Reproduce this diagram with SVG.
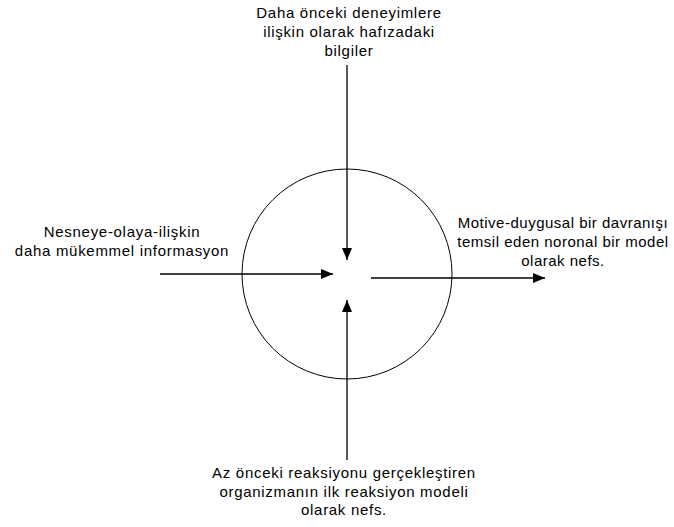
<svg xmlns="http://www.w3.org/2000/svg" width="674" height="527" viewBox="0 0 674 527">
<style>
text{font-family:"Liberation Sans",Arial,sans-serif;font-size:15px;letter-spacing:0.7px;fill:#000;text-anchor:middle}
#right text{letter-spacing:0.5px}
.c{fill:none;stroke:#000;stroke-width:1}
.a{fill:none;stroke:#000;stroke-width:1.3}
</style>
<defs>
<marker id="ah" viewBox="0 0 12 10" refX="12" refY="5" markerWidth="12" markerHeight="10" markerUnits="userSpaceOnUse" orient="auto">
<path d="M0,0 L12,5 L0,10 Z" fill="#000"/>
</marker>
</defs>
<rect width="674" height="527" fill="#fff"/>
<g id="circle"><circle class="c" cx="347" cy="274" r="105"/></g>
<g id="top"><text x="349" y="18">Daha önceki deneyimlere</text><text x="349" y="37">ilişkin olarak hafızadaki</text><text x="349" y="56">bilgiler</text></g>
<g id="left"><text x="122" y="237">Nesneye-olaya-ilişkin</text><text x="122" y="256">daha mükemmel informasyon</text></g>
<g id="right"><text x="563" y="228">Motive-duygusal bir davranışı</text><text x="563" y="247">temsil eden noronal bir model</text><text x="563" y="266">olarak nefs.</text></g>
<g id="bottom"><text x="344" y="478">Az önceki reaksiyonu gerçekleştiren</text><text x="344" y="497">organizmanın ilk reaksiyon modeli</text><text x="344" y="515">olarak nefs.</text></g>
<g id="connectors">
<line class="a" x1="347" y1="65" x2="347" y2="260" marker-end="url(#ah)"/>
<line class="a" x1="160" y1="274" x2="333" y2="274" marker-end="url(#ah)"/>
<line class="a" x1="347" y1="460" x2="347" y2="300" marker-end="url(#ah)"/>
<line class="a" x1="371" y1="278" x2="545" y2="278" marker-end="url(#ah)"/>
</g>
</svg>
